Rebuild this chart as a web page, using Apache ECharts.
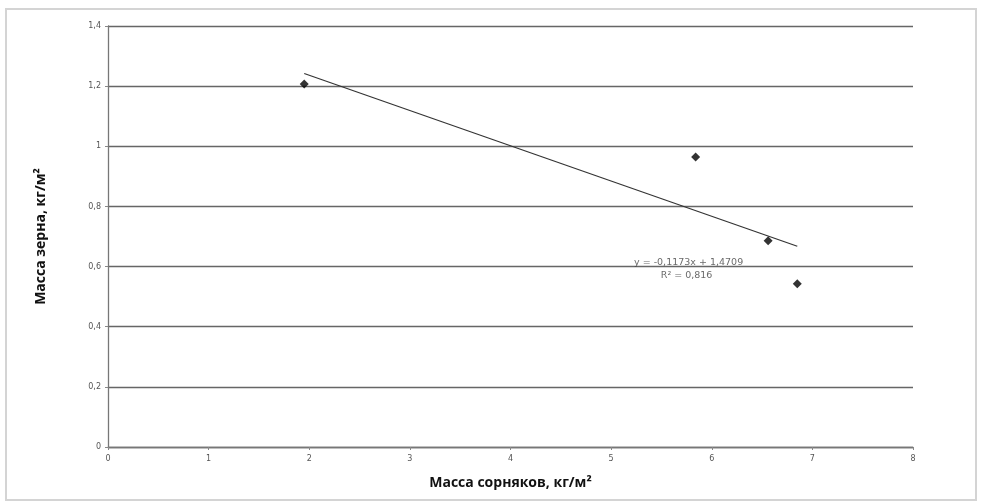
<!DOCTYPE html>
<html><head><meta charset="utf-8">
<script src="https://cdn.jsdelivr.net/npm/echarts@6/dist/echarts.min.js"></script>
<style>html,body{margin:0;padding:0;background:#fff}#frame{position:absolute;left:5px;top:8px;width:968px;height:489px;border:2px solid #d4d4d4;box-sizing:content-box}#c{position:absolute;left:0;top:0;width:990px;height:504px}</style>
</head><body><div id="frame"></div><div id="c"></div>
<script>
const xTitle = 'Масса сорняков, кг/м²';
const yTitle = 'Масса зерна, кг/м²';
const weedMass = [1.95, 5.84, 6.56, 6.85];
const grainMass = [1.207, 0.964, 0.686, 0.543];
const slope = -0.1173, intercept = 1.4709;
const eqText = 'y = -0,1173x + 1,4709';
const r2Text = 'R² = 0,816';

const pts = weedMass.map((x, i) => [x, grainMass[i]]);
const xmin = Math.min(...weedMass), xmax = Math.max(...weedMass);
const trend = [[xmin, slope * xmin + intercept], [xmax, slope * xmax + intercept]];
const fmt = v => String(Math.round(v * 10) / 10).replace('.', ',');
const lbl = {fontSize: 9.5, color: '#444', fontFamily: 'DejaVu Sans', position: 'inside'};

const chart = echarts.init(document.getElementById('c'), null, {renderer: 'canvas'});
chart.setOption({
  animation: false,
  grid: {left: 108, right: 77, top: 26, bottom: 57},
  xAxis: {
    type: 'value', min: 0, max: 8, interval: 1,
    name: xTitle, nameLocation: 'middle', nameGap: 29,
    nameTextStyle: {fontFamily: 'Open Sans', fontWeight: 'bold', fontSize: 14, color: '#111'},
    axisLine: {show: true, lineStyle: {color: '#777', width: 1.3}},
    axisTick: {show: true, length: 3, lineStyle: {color: '#888'}},
    axisLabel: {fontSize: 8, color: '#555', margin: 8, fontFamily: 'DejaVu Sans', formatter: fmt},
    splitLine: {show: false}
  },
  yAxis: {
    type: 'value', min: 0, max: 1.4, interval: 0.2,
    name: yTitle, nameLocation: 'middle', nameGap: 60,
    nameTextStyle: {fontFamily: 'Open Sans', fontWeight: 'bold', fontSize: 14, color: '#111'},
    axisLine: {show: true, lineStyle: {color: '#777', width: 1.3}},
    axisTick: {show: true, length: 3, lineStyle: {color: '#888'}},
    axisLabel: {fontSize: 8, color: '#555', margin: 7, fontFamily: 'DejaVu Sans', formatter: fmt},
    splitLine: {show: true, lineStyle: {color: '#666', width: 1.3}}
  },
  series: [
    {type: 'scatter', data: pts, symbol: 'diamond', symbolSize: 9, itemStyle: {color: '#000'}, z: 3},
    {type: 'line', data: trend, showSymbol: false, symbol: 'none', lineStyle: {color: '#333', width: 1.2}, z: 2},
    {type: 'scatter', symbolSize: 1, itemStyle: {color: 'rgba(0,0,0,0)'}, z: 4, silent: true,
     data: [
       {value: [5.77, 0.615], label: {show: true, formatter: eqText, ...lbl}},
       {value: [5.75, 0.571], label: {show: true, formatter: r2Text, ...lbl}}
     ]}
  ]
});
</script></body></html>
